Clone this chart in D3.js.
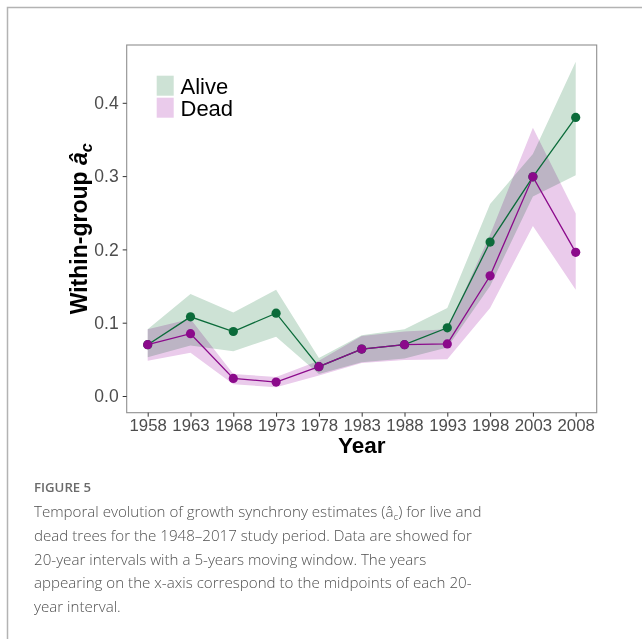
<!DOCTYPE html>
<html>
<head>
<meta charset="utf-8">
<script src="https://cdn.jsdelivr.net/npm/d3@7"></script>
<style>
html,body{margin:0;padding:0;background:#fff;}
svg{display:block;}
.ribbon{mix-blend-mode:multiply;}
</style>
</head>
<body>
<svg id="chart" width="642" height="639"></svg>
<script>
// ---- data ----
const years = [1958, 1963, 1968, 1973, 1978, 1983, 1988, 1993, 1998, 2003, 2008];
const aliveValues = [0.070, 0.108, 0.088, 0.113, 0.040, 0.064, 0.070, 0.093, 0.210, 0.299, 0.380];
const aliveUpper  = [0.091, 0.139, 0.114, 0.145, 0.052, 0.083, 0.091, 0.120, 0.262, 0.330, 0.456];
const aliveLower  = [0.053, 0.069, 0.061, 0.081, 0.030, 0.046, 0.051, 0.066, 0.150, 0.272, 0.301];
const deadValues  = [0.070, 0.085, 0.024, 0.019, 0.040, 0.064, 0.070, 0.071, 0.164, 0.299, 0.196];
const deadUpper   = [0.091, 0.105, 0.030, 0.026, 0.048, 0.082, 0.088, 0.091, 0.220, 0.366, 0.249];
const deadLower   = [0.048, 0.059, 0.016, 0.012, 0.028, 0.045, 0.049, 0.050, 0.120, 0.232, 0.145];
const yTicks = [0.0, 0.1, 0.2, 0.3, 0.4];
const seriesNames = ["Alive", "Dead"];
const captionTitle = "FIGURE 5";

// ---- layout ----
const svg = d3.select("#chart");
const panel = {x0: 126.7, x1: 596.7, y0: 45, y1: 412.7};
const x = d3.scaleLinear().domain([1958, 2008]).range([147.7, 575.7]);
const y = d3.scaleLinear().domain([0, 0.4]).range([396, 102.8]);

const colors = {
  Alive: {line: "#0b6b3a", fill: "#cde2d5"},
  Dead:  {line: "#8b0a8b", fill: "#eacbeb"}
};

svg.append("rect").attr("width", 642).attr("height", 639).attr("fill", "#fff");

// outer frame
svg.append("path").attr("d", "M7.5,639 L7.5,7.5 L642,7.5")
  .attr("fill", "none").attr("stroke", "#b3b3b3").attr("stroke-width", 1.5);

const makeRows = (v, lo, hi) => years.map((yr, i) => ({yr, v: v[i], lo: lo[i], hi: hi[i]}));
const alive = makeRows(aliveValues, aliveLower, aliveUpper);
const dead = makeRows(deadValues, deadLower, deadUpper);

const area = d3.area().x(d => x(d.yr)).y0(d => y(d.lo)).y1(d => y(d.hi));
const line = d3.line().x(d => x(d.yr)).y(d => y(d.v));

const gR = svg.append("g").style("isolation", "isolate");
gR.append("path").attr("class", "ribbon").datum(alive).attr("d", area).attr("fill", colors.Alive.fill);
gR.append("path").attr("class", "ribbon").datum(dead).attr("d", area).attr("fill", colors.Dead.fill);

// lines and points
[["Alive", alive], ["Dead", dead]].forEach(([name, rows]) => {
  svg.append("path").datum(rows).attr("d", line).attr("fill", "none")
    .attr("stroke", colors[name].line).attr("stroke-width", 1.3);
});
[["Alive", alive], ["Dead", dead]].forEach(([name, rows]) => {
  svg.append("g").selectAll("circle").data(rows).join("circle")
    .attr("cx", d => x(d.yr)).attr("cy", d => y(d.v)).attr("r", 4.6)
    .attr("fill", colors[name].line);
});

// panel border
svg.append("rect").attr("x", panel.x0).attr("y", panel.y0)
  .attr("width", panel.x1 - panel.x0).attr("height", panel.y1 - panel.y0)
  .attr("fill", "none").attr("stroke", "#8f8f8f").attr("stroke-width", 1.1);

// axes
const xAxis = d3.axisBottom(x).tickValues(years).tickFormat(d3.format("d")).tickSize(4).tickPadding(4);
const gx = svg.append("g").attr("transform", `translate(0,${panel.y1})`).call(xAxis);
gx.select(".domain").remove();
gx.selectAll("line").attr("stroke", "#333").attr("stroke-width", 1);
gx.selectAll("text").attr("fill", "#4d4d4d").attr("font-family", "Liberation Sans, Arial, sans-serif")
  .attr("font-size", 16.8).attr("dy", null).attr("y", 18);

const yAxis = d3.axisLeft(y).tickValues(yTicks).tickFormat(d3.format(".1f")).tickSize(4).tickPadding(4);
const gy = svg.append("g").attr("transform", `translate(${panel.x0},0)`).call(yAxis);
gy.select(".domain").remove();
gy.selectAll("line").attr("stroke", "#333").attr("stroke-width", 1);
gy.selectAll("text").attr("fill", "#4d4d4d").attr("font-family", "Liberation Sans, Arial, sans-serif")
  .attr("font-size", 17.5);

// axis titles
svg.append("text").attr("x", (panel.x0 + panel.x1) / 2).attr("y", 453)
  .attr("text-anchor", "middle").attr("font-family", "Liberation Sans, Arial, sans-serif")
  .attr("font-weight", "bold").attr("font-size", 22.5).attr("fill", "#000").text("Year");

const yt = svg.append("text")
  .attr("transform", `translate(87,${(panel.y0 + panel.y1) / 2}) rotate(-90)`)
  .attr("text-anchor", "middle").attr("font-family", "Liberation Sans, Arial, sans-serif")
  .attr("font-weight", "bold").attr("font-size", 23).attr("fill", "#000");
yt.append("tspan").text("Within-group ");
yt.append("tspan").attr("font-style", "italic").text("â");
yt.append("tspan").attr("font-style", "italic").attr("font-size", 16).attr("dy", 5).text("c");

// legend
const lg = svg.append("g");
seriesNames.forEach((name, i) => {
  lg.append("rect").attr("x", 156.7).attr("y", 75.7 + i * 22).attr("width", 17).attr("height", 20)
    .attr("fill", colors[name].fill);
  lg.append("text").attr("x", 180.5).attr("y", 94.3 + i * 21.8)
    .attr("font-family", "Liberation Sans, Arial, sans-serif").attr("font-size", 22)
    .attr("fill", "#000").text(name);
});

// caption
const capFont = "'Open Sans', 'Noto Sans', sans-serif";
svg.append("text").attr("x", 34).attr("y", 491.7).attr("font-family", capFont)
  .attr("font-size", 13.2).attr("font-weight", 600).attr("fill", "#6b6b6b").text(captionTitle);

const capLines = [
  null,
  "dead trees for the 1948–2017 study period. Data are showed for",
  "20-year intervals with a 5-years moving window. The years",
  "appearing on the x-axis correspond to the midpoints of each 20-",
  "year interval."
];
const baselines = [516.7, 540.7, 564.5, 588.4, 612.3];
const capG = svg.append("g").attr("font-family", capFont).attr("fill", "#505050").attr("font-weight", 300);
const l1 = capG.append("text").attr("x", 34).attr("y", baselines[0]).attr("font-size", 17);
l1.append("tspan").text("Temporal evolution of growth synchrony estimates (â");
l1.append("tspan").attr("font-size", 11).attr("dy", 3).text("c");
l1.append("tspan").attr("dy", -3).text(") for live and");
capLines.forEach((t, i) => {
  if (!t) return;
  capG.append("text").attr("x", 34).attr("y", baselines[i]).attr("font-size", 17).text(t);
});
// fit font size so first line width matches ~448px
const w1 = l1.node().getComputedTextLength();
const fs = 17 * 448 / w1;
capG.selectAll("text").attr("font-size", fs);
l1.select("tspan:nth-child(2)").attr("font-size", fs * 0.65);
</script>
</body>
</html>
